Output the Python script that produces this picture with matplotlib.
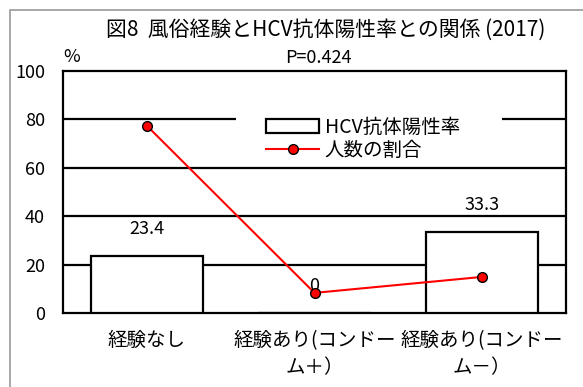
import matplotlib
matplotlib.use("Agg")
from matplotlib import pyplot as plt
from matplotlib.patches import Rectangle
import numpy as np

plt.rcParams['font.family'] = ['Noto Sans CJK JP', 'DejaVu Sans']

categories = ['経験なし', '経験あり(コンドー\nム＋）', '経験あり(コンドー\nム－）']
hcv_rate = [23.4, 0, 33.3]
hcv_labels = ['23.4', '0', '33.3']
people_ratio = [77.3, 8.3, 14.9]
yticks = [0, 20, 40, 60, 80, 100]

fig = plt.figure(figsize=(5.83, 3.87), dpi=100)
ax = fig.add_axes([63/583, 1-313/387, 503/583, 242.3/387])

x = np.arange(len(categories))
# 棒グラフ
bars = ax.bar(x, hcv_rate, width=0.67, color='white', edgecolor='black',
              linewidth=1.6, zorder=3, label='HCV抗体陽性率')
# 折れ線
line, = ax.plot(x, people_ratio, color='red', linewidth=1.5, marker='o', markersize=7,
                markerfacecolor='red', markeredgecolor='black', markeredgewidth=1,
                zorder=5, label='人数の割合')

# 数値ラベル
offsets = [13, 13, 13]
for xi, v, lab, off in zip(x, hcv_rate, hcv_labels, offsets):
    ax.annotate(lab, (xi, v), xytext=(0, off), textcoords='offset points',
                ha='center', va='bottom', fontsize=13, zorder=4)

ax.set_xlim(-0.5, 2.5)
ax.set_ylim(0, 100)
ax.set_yticks(yticks)
ax.set_xticks(x)
ax.set_xticklabels(categories, fontsize=14, linespacing=1.4)
ax.tick_params(axis='y', length=0, pad=13, labelsize=13)
ax.tick_params(axis='x', length=0, pad=12)
for yv in yticks[1:-1]:
    ax.axhline(yv, color='black', linewidth=1.6, zorder=1)
for sp in ax.spines.values():
    sp.set_linewidth(1.6)

# 凡例の背景
ax.add_patch(Rectangle((0.344, 0.61), 0.528, 0.25, transform=ax.transAxes,
                       facecolor='white', edgecolor='none', zorder=2))
leg = ax.legend([bars, line], ['HCV抗体陽性率', '人数の割合'],
                loc='upper left', bbox_to_anchor=(0.385, 0.85), frameon=False,
                fontsize=14, handlelength=2.7, handletextpad=0.3,
                labelspacing=0.1, borderpad=0)
leg.set_zorder(7)

fig.text(326/583, 1-30/387, '図8  風俗経験とHCV抗体陽性率との関係 (2017)',
         ha='center', va='center', fontsize=15)
fig.text(318/583, 1-58/387, 'P=0.424', ha='center', va='center', fontsize=13)
fig.text(63/583, 1-57/387, '%', ha='left', va='center', fontsize=13)

# 外枠
fig.patches.append(Rectangle((10/583, -0.1), 1.1, 1.1 - 10/387,
                             transform=fig.transFigure, facecolor='none',
                             edgecolor='#999999', linewidth=1.2))

fig.savefig('out.png', dpi=100)
